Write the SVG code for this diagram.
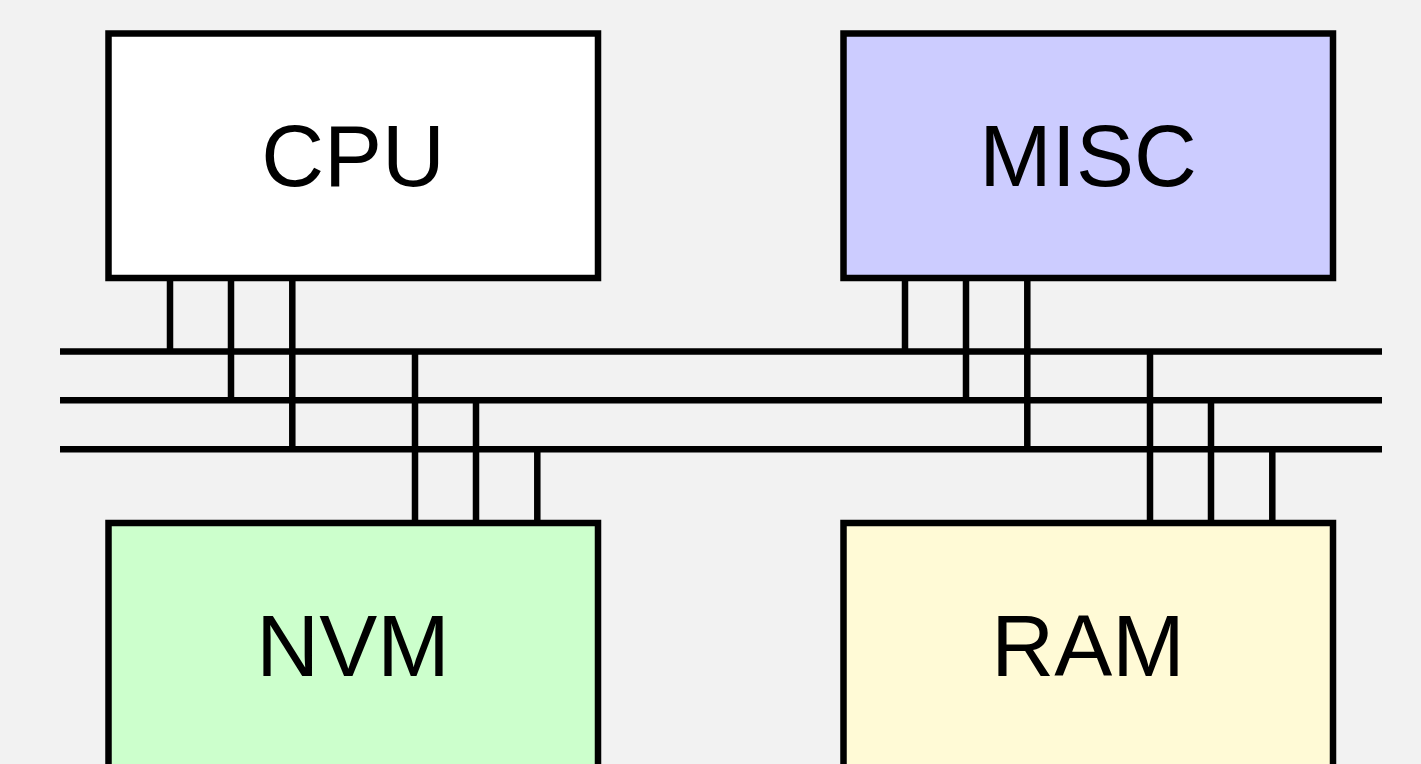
<svg xmlns="http://www.w3.org/2000/svg" width="1421" height="764" viewBox="0 0 1421 764">
<style>
.box{stroke:#000;stroke-width:6.5}
.lbl{font-family:"Liberation Sans",Arial,sans-serif;font-size:87px;fill:#000;text-anchor:middle}
.wire{stroke:#000;stroke-width:6.5;fill:none}
</style>
<rect width="1421" height="764" fill="#f2f2f2"/>
<g id="connectors">
<path class="wire" d="M60 351.5H1382M60 400.3H1382M60 449.3H1382"/>
<path class="wire" d="M170 278V351.5M231 278V400.3M292.3 278V449.3"/>
<path class="wire" d="M905 278V351.5M966 278V400.3M1027.3 278V449.3"/>
<path class="wire" d="M415 351.5V523M476 400.3V523M537.3 449.3V523"/>
<path class="wire" d="M1150 351.5V523M1211 400.3V523M1272.3 449.3V523"/>
</g>
<g id="cpu">
<rect class="box" x="108.5" y="33.5" width="489.5" height="244.5" fill="#ffffff"/>
<text class="lbl" x="353" y="186">CPU</text>
</g>
<g id="misc">
<rect class="box" x="843.5" y="33.5" width="489.5" height="244.5" fill="#ccccff"/>
<text class="lbl" x="1088" y="186">MISC</text>
</g>
<g id="nvm">
<rect class="box" x="108.5" y="523" width="489.5" height="260" fill="#ccffcc"/>
<text class="lbl" x="353" y="676">NVM</text>
</g>
<g id="ram">
<rect class="box" x="843.5" y="523" width="489.5" height="260" fill="#fffad6"/>
<text class="lbl" x="1088" y="676">RAM</text>
</g>
</svg>
